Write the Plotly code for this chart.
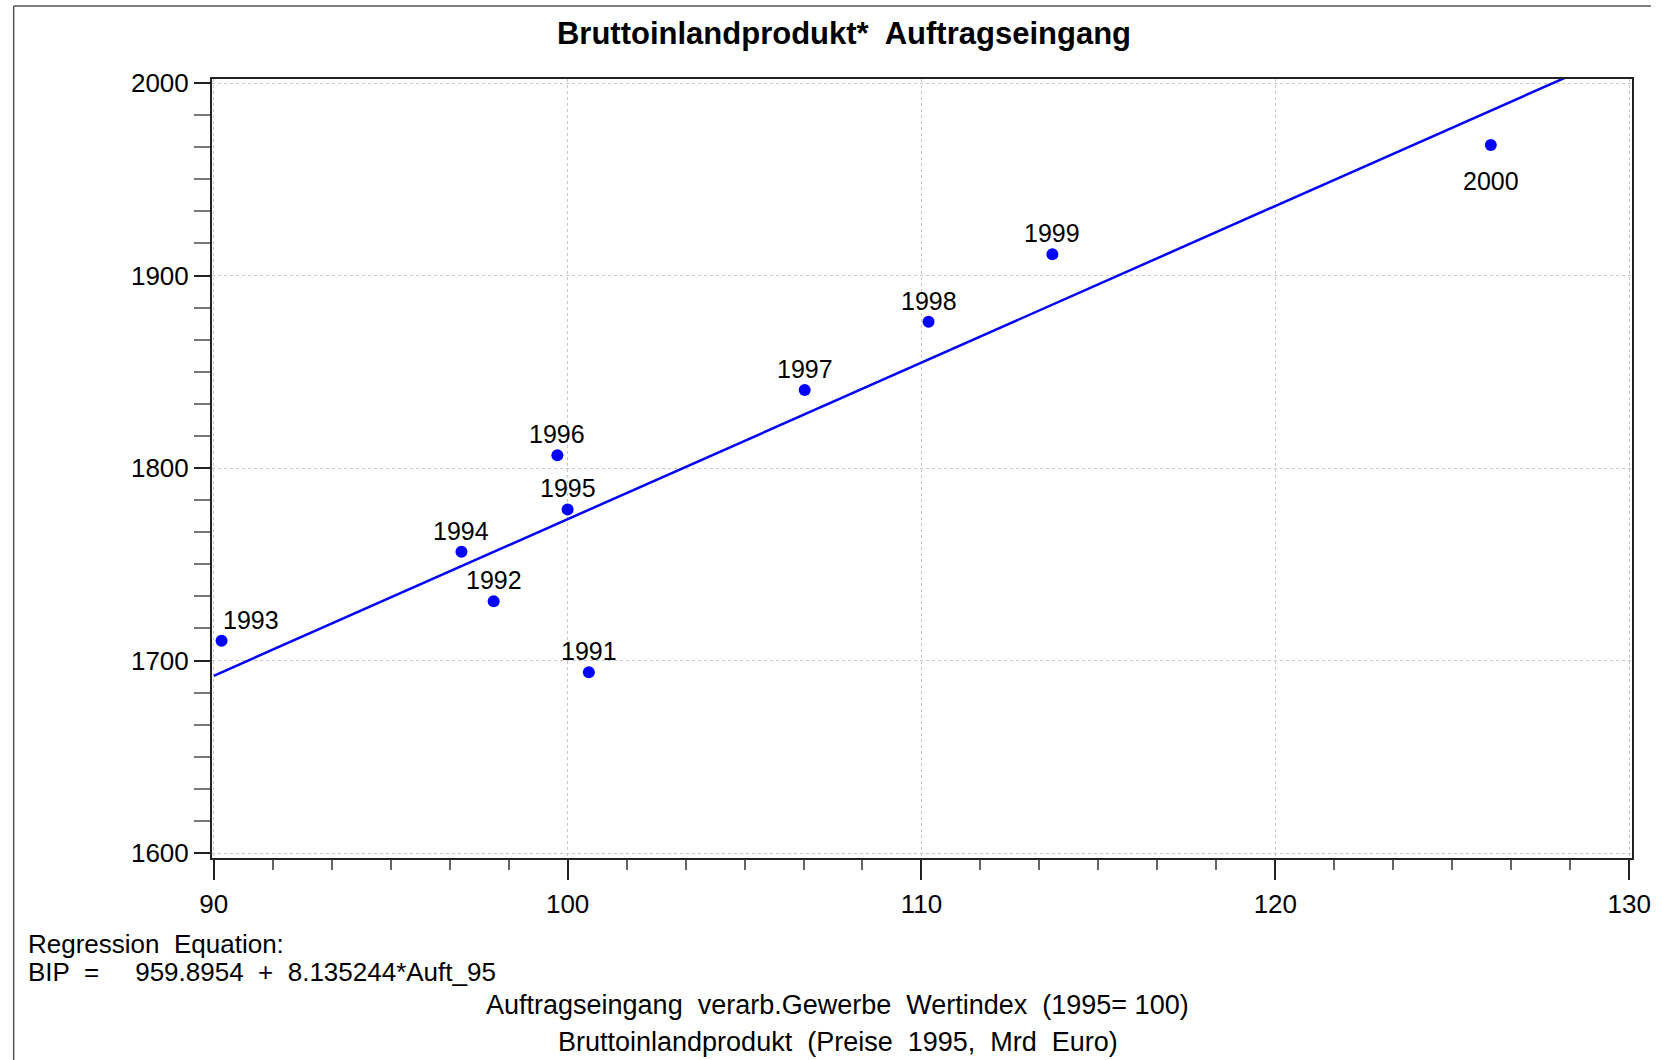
import plotly.graph_objects as go

# ---- data ----
years = ["1991", "1992", "1993", "1994", "1995", "1996", "1997", "1998", "1999", "2000"]
auftrag = [100.60, 97.91, 90.22, 97.00, 100.0, 99.71, 106.70, 110.20, 113.70, 126.09]
bip = [1693.9, 1730.8, 1710.3, 1756.5, 1778.5, 1806.6, 1840.5, 1876.0, 1911.0, 1967.8]

intercept = 959.8954
slope = 8.135244

x_ticks = [90, 100, 110, 120, 130]
y_ticks = [1600, 1700, 1800, 1900, 2000]

title_text = "Bruttoinlandprodukt*  Auftragseingang"
eq_line1 = "Regression  Equation:"
eq_line2 = "BIP  =     959.8954  +  8.135244*Auft_95"
x_title = "Auftragseingang  verarb.Gewerbe  Wertindex  (1995= 100)"
y_title = "Bruttoinlandprodukt  (Preise  1995,  Mrd  Euro)"

FONT = "Liberation Sans, Arial, sans-serif"
BLUE = "#0000ff"

# plot-area geometry in pixels (figure 1663 x 1060)
L, R, T, B = 212, 1644, 79, 858
PW, PH = R - L, B - T


def px(xp):
    return (xp - L) / PW


def py(yp):
    return (B - yp) / PH


fig = go.Figure()

# regression line across the x range (clipped to plot area)
line_x = [x_ticks[0], x_ticks[-1]]
line_y = [intercept + slope * v for v in line_x]
fig.add_trace(go.Scatter(x=line_x, y=line_y, mode="lines",
                         line=dict(color=BLUE, width=2.5), hoverinfo="skip"))

fig.add_trace(go.Scatter(x=auftrag, y=bip, mode="markers",
                         marker=dict(color=BLUE, size=12), hoverinfo="skip"))

# point labels
for yr, xv, yv in zip(years, auftrag, bip):
    xs, ys = 0, 21
    if yr == "2000":
        ys = -36
    if yr == "1993":
        xs = 29
    fig.add_annotation(x=xv, y=yv, text=yr, showarrow=False, xshift=xs, yshift=ys,
                       font=dict(family=FONT, size=25, color="black"))

# bottom texts
for txt, xx, yy, anc, fs in [(eq_line1, 24, 944, "left", 26), (eq_line2, 24, 972, "left", 26),
                             (x_title, 843, 1005, "center", 27), (y_title, 843, 1042, "center", 27)]:
    fig.add_annotation(xref="paper", yref="paper", x=px(xx), y=py(yy),
                       text=txt, showarrow=False, xanchor=anc, yanchor="middle",
                       font=dict(family=FONT, size=fs, color="black"))

# outer frame (top and left edges)
fig.add_shape(type="line", xref="paper", yref="paper",
              x0=px(12), x1=px(1663), y0=py(6), y1=py(6),
              line=dict(color="#555555", width=1.5))
fig.add_shape(type="line", xref="paper", yref="paper",
              x0=px(12), x1=px(12), y0=py(6), y1=py(1060),
              line=dict(color="#555555", width=1.5))

fig.update_layout(
    width=1663, height=1060,
    margin=dict(l=L, r=1663 - R, t=T, b=1060 - B),
    paper_bgcolor="white", plot_bgcolor="white",
    showlegend=False,
    title=dict(text="<b>" + title_text + "</b>", x=844 / 1663, xanchor="center",
               y=1 - 33 / 1060, yanchor="middle",
               font=dict(family=FONT, size=31, color="black")),
    font=dict(family=FONT, color="black"),
)

fig.update_xaxes(
    range=[89.95, 130.08], tickvals=x_ticks, ticktext=[str(v) for v in x_ticks],
    showline=True, mirror=True, linecolor="#222222", linewidth=2,
    ticks="outside", ticklen=20, tickwidth=2, tickcolor="#222222",
    ticklabelstandoff=2, ticklabeloverflow="allow",
    tickfont=dict(family=FONT, size=26, color="black"),
    showgrid=True, gridcolor="#c8c8c8", griddash="dot", gridwidth=1,
    zeroline=False,
    minor=dict(dtick=10 / 6, tick0=90, ticks="outside", ticklen=10, tickwidth=1.5,
               tickcolor="#666666", showgrid=False),
)
fig.update_yaxes(
    range=[1597.4, 2002.1], tickvals=y_ticks, ticktext=[str(v) for v in y_ticks],
    showline=True, mirror=True, linecolor="#222222", linewidth=2,
    ticks="outside", ticklen=16, tickwidth=2, tickcolor="#222222",
    tickfont=dict(family=FONT, size=26, color="black"),
    showgrid=True, gridcolor="#c8c8c8", griddash="dot", gridwidth=1,
    zeroline=False,
    minor=dict(dtick=100 / 6, tick0=1600, ticks="outside", ticklen=16, tickwidth=1.5,
               tickcolor="#777777", showgrid=False),
)

fig.write_html("out.html", config={"displayModeBar": False},
               post_script="document.body.style.margin='0';document.body.style.overflow='hidden';")
